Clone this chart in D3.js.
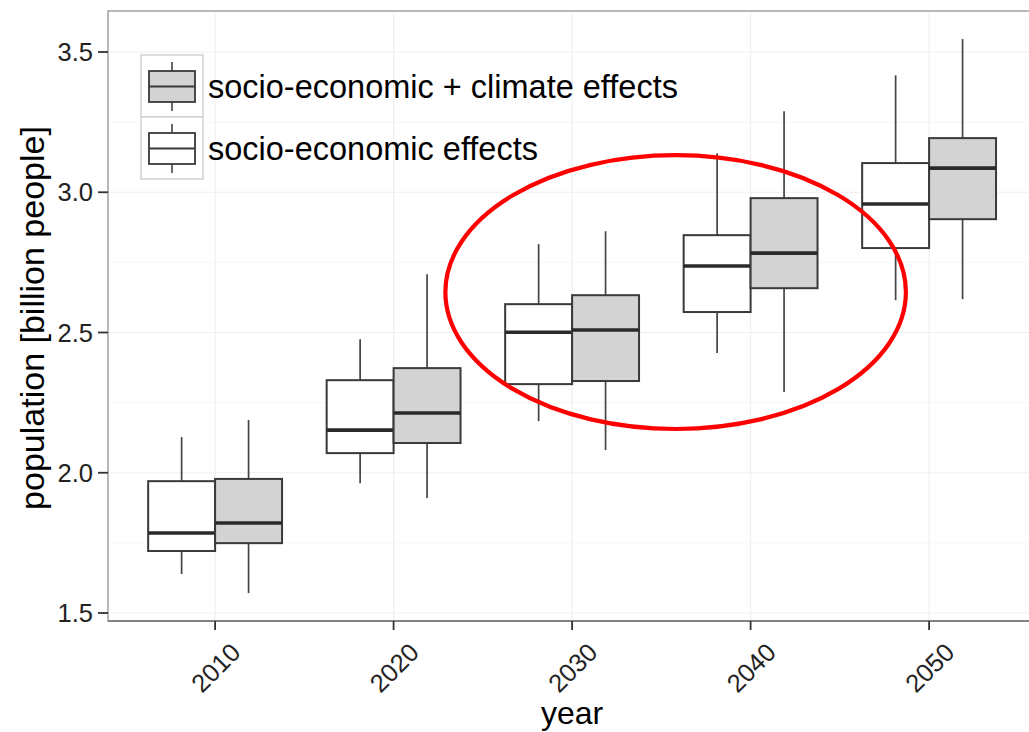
<!DOCTYPE html>
<html>
<head>
<meta charset="utf-8">
<script src="https://cdn.jsdelivr.net/npm/d3@7"></script>
<style>
  html, body { margin: 0; padding: 0; background: #fff; }
  svg { display: block; font-family: 'Liberation Sans', Arial, sans-serif; }
</style>
</head>
<body>
<div id="chart"></div>
<script>
const years = [2010, 2020, 2030, 2040, 2050];
const groups = ['socio-economic effects', 'socio-economic + climate effects'];
const yTicks = [1.5, 2.0, 2.5, 3.0, 3.5];

// socio-economic effects
const socioLow = [1.639, 1.963, 2.184, 2.427, 2.615];
const socioQ1 = [1.721, 2.070, 2.316, 2.573, 2.801];
const socioMedian = [1.785, 2.152, 2.501, 2.737, 2.958];
const socioQ3 = [1.970, 2.330, 2.601, 2.847, 3.104];
const socioHigh = [2.127, 2.476, 2.815, 3.139, 3.417];

// socio-economic + climate effects
const climateLow = [1.571, 1.910, 2.081, 2.288, 2.619];
const climateQ1 = [1.749, 2.106, 2.327, 2.658, 2.904];
const climateMedian = [1.821, 2.213, 2.509, 2.783, 3.086];
const climateQ3 = [1.978, 2.373, 2.633, 2.979, 3.193];
const climateHigh = [2.188, 2.708, 2.861, 3.289, 3.546];

const fills = { 'socio-economic effects': '#ffffff', 'socio-economic + climate effects': '#d3d3d3' };

const boxes = [];
years.forEach((yr, i) => {
  boxes.push({ year: yr, group: groups[0], lo: socioLow[i], q1: socioQ1[i], med: socioMedian[i], q3: socioQ3[i], hi: socioHigh[i] });
  boxes.push({ year: yr, group: groups[1], lo: climateLow[i], q1: climateQ1[i], med: climateMedian[i], q3: climateQ3[i], hi: climateHigh[i] });
});

let width = 1029, height = 732;
let panel = { left: 108, top: 11, bottom: 621 };

let step = 178.5;
let x = d3.scalePoint().domain(years).range([panel.left + 0.6 * step, panel.left + 4.6 * step]);
panel.right = panel.left + 5.2 * step;

let y = d3.scaleLinear().domain([1.5, 3.5]).range([613, 52]);

let dodge = d3.scaleBand().domain(groups).range([-0.375 * step, 0.375 * step]);

const svg = d3.select('#chart').append('svg')
  .attr('width', width)
  .attr('height', height);

// panel background + grid
svg.append('rect')
  .attr('x', panel.left).attr('y', panel.top)
  .attr('width', panel.right - panel.left).attr('height', panel.bottom - panel.top)
  .attr('fill', '#fff');

let minor = d3.range(1.75, 3.6, 0.5);
svg.append('g').selectAll('line.minor').data(minor).enter().append('line')
  .attr('x1', panel.left).attr('x2', panel.right)
  .attr('y1', d => y(d)).attr('y2', d => y(d))
  .attr('stroke', '#f6f6f6').attr('stroke-width', 1);

svg.append('g').selectAll('line.major').data(yTicks).enter().append('line')
  .attr('x1', panel.left).attr('x2', panel.right)
  .attr('y1', d => y(d)).attr('y2', d => y(d))
  .attr('stroke', '#efefef').attr('stroke-width', 1.2);

svg.append('g').selectAll('line.vgrid').data(years).enter().append('line')
  .attr('x1', d => x(d)).attr('x2', d => x(d))
  .attr('y1', panel.top).attr('y2', panel.bottom)
  .attr('stroke', '#efefef').attr('stroke-width', 1.2);

// boxes
let bw = dodge.bandwidth();
let bg = svg.append('g').selectAll('g').data(boxes).enter().append('g')
  .attr('transform', d => `translate(${x(d.year) + dodge(d.group)},0)`);

bg.append('line')
  .attr('x1', bw / 2).attr('x2', bw / 2)
  .attr('y1', d => y(d.hi)).attr('y2', d => y(d.q3))
  .attr('stroke', '#444').attr('stroke-width', 1.7);
bg.append('line')
  .attr('x1', bw / 2).attr('x2', bw / 2)
  .attr('y1', d => y(d.q1)).attr('y2', d => y(d.lo))
  .attr('stroke', '#444').attr('stroke-width', 1.7);
bg.append('rect')
  .attr('x', 0).attr('width', bw)
  .attr('y', d => y(d.q3)).attr('height', d => y(d.q1) - y(d.q3))
  .attr('fill', d => fills[d.group])
  .attr('stroke', '#3a3a3a').attr('stroke-width', 2);
bg.append('line')
  .attr('x1', 0).attr('x2', bw)
  .attr('y1', d => y(d.med)).attr('y2', d => y(d.med))
  .attr('stroke', '#2a2a2a').attr('stroke-width', 3.6);

// panel border
svg.append('rect')
  .attr('x', panel.left).attr('y', panel.top)
  .attr('width', panel.right - panel.left).attr('height', panel.bottom - panel.top)
  .attr('fill', 'none').attr('stroke', '#9a9a9a').attr('stroke-width', 1.4);
svg.append('line')
  .attr('x1', panel.left).attr('x2', panel.right)
  .attr('y1', panel.bottom).attr('y2', panel.bottom)
  .attr('stroke', '#707070').attr('stroke-width', 1.6);

// y axis
let yAxis = g => g
  .call(g => g.selectAll('line').data(yTicks).enter().append('line')
    .attr('x1', panel.left - 10).attr('x2', panel.left)
    .attr('y1', d => y(d)).attr('y2', d => y(d))
    .attr('stroke', '#333').attr('stroke-width', 1.8))
  .call(g => g.selectAll('text').data(yTicks).enter().append('text')
    .attr('x', panel.left - 15).attr('y', d => y(d))
    .attr('dy', '0.36em')
    .attr('text-anchor', 'end')
    .attr('font-size', 25.5)
    .attr('fill', '#222')
    .text(d => d.toFixed(1)));
svg.append('g').call(yAxis);

// x axis
let xAxis = g => g
  .call(g => g.selectAll('line').data(years).enter().append('line')
    .attr('x1', d => x(d)).attr('x2', d => x(d))
    .attr('y1', panel.bottom).attr('y2', panel.bottom + 9)
    .attr('stroke', '#333').attr('stroke-width', 1.8))
  .call(g => g.selectAll('text').data(years).enter().append('text')
    .attr('transform', d => `translate(${x(d) + 27},${panel.bottom + 33}) rotate(-45)`)
    .attr('text-anchor', 'end')
    .attr('font-size', 25.5)
    .attr('fill', '#222')
    .text(d => d));
svg.append('g').call(xAxis);

// axis titles
svg.append('text')
  .attr('transform', `translate(44,${(panel.top + panel.bottom) / 2 + 2}) rotate(-90)`)
  .attr('text-anchor', 'middle')
  .attr('font-size', 34)
  .attr('fill', '#000')
  .text('population [billion people]');

svg.append('text')
  .attr('x', (panel.left + panel.right) / 2)
  .attr('y', 724)
  .attr('text-anchor', 'middle')
  .attr('font-size', 32)
  .attr('fill', '#000')
  .text('year');

// legend
let legendOrder = [groups[1], groups[0]];
let key = 62;
let legend = svg.append('g').attr('transform', 'translate(141,55)');
let items = legend.selectAll('g').data(legendOrder).enter().append('g')
  .attr('transform', (d, i) => `translate(0,${i * key})`);
items.append('rect')
  .attr('width', key).attr('height', key)
  .attr('fill', '#fff').attr('stroke', '#d0d0d0').attr('stroke-width', 1.4);
items.append('line')
  .attr('x1', key / 2).attr('x2', key / 2).attr('y1', 7).attr('y2', 56)
  .attr('stroke', '#444').attr('stroke-width', 1.6);
items.append('rect')
  .attr('x', 8).attr('width', key - 16).attr('y', 16).attr('height', 31)
  .attr('fill', d => fills[d]).attr('stroke', '#3a3a3a').attr('stroke-width', 1.8);
items.append('line')
  .attr('x1', 8).attr('x2', key - 8).attr('y1', 31.5).attr('y2', 31.5)
  .attr('stroke', '#3a3a3a').attr('stroke-width', 1.8);
items.append('text')
  .attr('x', key + 5).attr('y', key / 2)
  .attr('dy', '0.36em')
  .attr('font-size', 32.5)
  .attr('fill', '#000')
  .text(d => d);

// red highlight ellipse round 2030 / 2040
let mark = { pos: 2.58, value: 2.644, rx: 1.29, ry: 0.488 };
svg.append('ellipse')
  .attr('cx', x(years[0]) + mark.pos * step)
  .attr('cy', y(mark.value))
  .attr('rx', mark.rx * step)
  .attr('ry', y(0) - y(mark.ry))
  .attr('fill', 'none')
  .attr('stroke', '#ff0000')
  .attr('stroke-width', 4.2);
</script>
</body>
</html>
